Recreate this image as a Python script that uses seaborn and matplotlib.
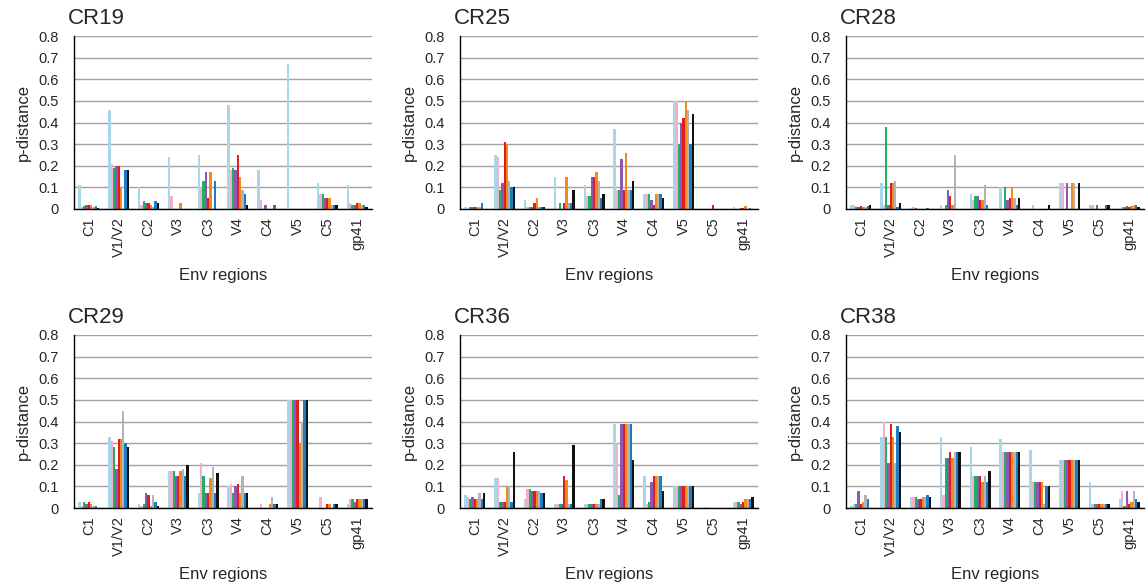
import numpy as np
import pandas as pd
import matplotlib
matplotlib.use("Agg")
import matplotlib.pyplot as plt
from matplotlib.ticker import FixedLocator, FuncFormatter
import seaborn as sns

sns.set_style("white")
plt.rcParams["font.family"] = ["Liberation Sans", "DejaVu Sans"]

regions = ["C1", "V1/V2", "C2", "V3", "C3", "V4", "C4", "V5", "C5", "gp41"]
series = ["s1", "s2", "s3", "s4", "s5", "s6", "s7", "s8", "s9"]
colors = ["#A8D8E8", "#F4AFCF", "#1FB15F", "#8D57B5", "#DE1E1E",
          "#F08A1D", "#B3B3B3", "#1E7DC2", "#111111"]

# rows = regions, columns = series
CR19 = [
    [0.11, 0.01, 0.015, 0.02, 0.02, 0.02, 0.01, 0.015, 0.005],
    [0.46, 0.21, 0.19, 0.20, 0.20, 0.10, 0.00, 0.18, 0.18],
    [0.10, 0.02, 0.035, 0.03, 0.03, 0.02, 0.01, 0.035, 0.03],
    [0.24, 0.06, 0.00, 0.00, 0.00, 0.03, 0.00, 0.00, 0.00],
    [0.25, 0.10, 0.13, 0.17, 0.05, 0.17, 0.00, 0.13, 0.00],
    [0.48, 0.18, 0.19, 0.18, 0.25, 0.15, 0.09, 0.07, 0.02],
    [0.18, 0.04, 0.00, 0.02, 0.00, 0.00, 0.00, 0.02, 0.00],
    [0.67, 0.00, 0.00, 0.00, 0.00, 0.00, 0.00, 0.00, 0.00],
    [0.12, 0.07, 0.07, 0.05, 0.05, 0.05, 0.02, 0.02, 0.02],
    [0.11, 0.03, 0.02, 0.02, 0.03, 0.03, 0.02, 0.02, 0.01],
]
CR25 = [
    [0.01, 0.00, 0.01, 0.01, 0.01, 0.01, 0.01, 0.03, 0.00],
    [0.25, 0.24, 0.09, 0.12, 0.31, 0.30, 0.13, 0.10, 0.10],
    [0.04, 0.01, 0.01, 0.01, 0.03, 0.05, 0.01, 0.01, 0.01],
    [0.15, 0.00, 0.03, 0.00, 0.03, 0.15, 0.03, 0.03, 0.09],
    [0.11, 0.06, 0.06, 0.15, 0.15, 0.17, 0.13, 0.05, 0.07],
    [0.37, 0.09, 0.09, 0.23, 0.09, 0.26, 0.09, 0.09, 0.13],
    [0.07, 0.07, 0.07, 0.04, 0.02, 0.07, 0.07, 0.07, 0.05],
    [0.50, 0.50, 0.30, 0.40, 0.42, 0.50, 0.46, 0.30, 0.44],
    [0.00, 0.00, 0.00, 0.00, 0.02, 0.00, 0.00, 0.00, 0.00],
    [0.01, 0.00, 0.00, 0.005, 0.005, 0.015, 0.00, 0.005, 0.00],
]
CR28 = [
    [0.02, 0.02, 0.01, 0.01, 0.015, 0.01, 0.01, 0.015, 0.02],
    [0.12, 0.02, 0.38, 0.02, 0.12, 0.12, 0.13, 0.01, 0.03],
    [0.005, 0.01, 0.005, 0.00, 0.00, 0.00, 0.00, 0.005, 0.00],
    [0.02, 0.00, 0.02, 0.09, 0.06, 0.02, 0.25, 0.00, 0.00],
    [0.07, 0.04, 0.06, 0.06, 0.04, 0.04, 0.11, 0.02, 0.00],
    [0.10, 0.00, 0.10, 0.04, 0.05, 0.10, 0.05, 0.02, 0.05],
    [0.00, 0.02, 0.00, 0.00, 0.00, 0.00, 0.00, 0.00, 0.02],
    [0.12, 0.12, 0.00, 0.12, 0.00, 0.12, 0.12, 0.00, 0.12],
    [0.02, 0.02, 0.00, 0.02, 0.00, 0.00, 0.00, 0.02, 0.02],
    [0.00, 0.01, 0.01, 0.015, 0.01, 0.015, 0.02, 0.02, 0.01],
]
CR29 = [
    [0.03, 0.01, 0.03, 0.02, 0.03, 0.02, 0.01, 0.01, 0.00],
    [0.33, 0.31, 0.28, 0.18, 0.32, 0.32, 0.45, 0.30, 0.28],
    [0.02, 0.01, 0.02, 0.07, 0.06, 0.01, 0.06, 0.03, 0.01],
    [0.17, 0.17, 0.17, 0.15, 0.15, 0.17, 0.18, 0.15, 0.20],
    [0.07, 0.21, 0.15, 0.07, 0.07, 0.14, 0.19, 0.07, 0.16],
    [0.10, 0.11, 0.07, 0.10, 0.11, 0.07, 0.15, 0.07, 0.07],
    [0.00, 0.02, 0.00, 0.00, 0.00, 0.02, 0.05, 0.02, 0.02],
    [0.50, 0.50, 0.50, 0.50, 0.50, 0.30, 0.40, 0.50, 0.50],
    [0.00, 0.05, 0.00, 0.00, 0.02, 0.02, 0.00, 0.02, 0.02],
    [0.02, 0.04, 0.04, 0.03, 0.04, 0.04, 0.04, 0.04, 0.04],
]
CR36 = [
    [0.06, 0.05, 0.04, 0.05, 0.04, 0.04, 0.07, 0.04, 0.07],
    [0.14, 0.14, 0.03, 0.03, 0.03, 0.10, 0.10, 0.03, 0.26],
    [0.04, 0.09, 0.09, 0.08, 0.08, 0.08, 0.08, 0.07, 0.07],
    [0.02, 0.02, 0.02, 0.02, 0.15, 0.13, 0.02, 0.02, 0.29],
    [0.02, 0.02, 0.02, 0.02, 0.02, 0.02, 0.02, 0.04, 0.04],
    [0.39, 0.30, 0.06, 0.39, 0.39, 0.39, 0.39, 0.39, 0.22],
    [0.15, 0.02, 0.03, 0.12, 0.15, 0.15, 0.15, 0.15, 0.08],
    [0.10, 0.10, 0.10, 0.10, 0.10, 0.10, 0.10, 0.10, 0.10],
    [0.00, 0.005, 0.00, 0.00, 0.00, 0.00, 0.00, 0.00, 0.00],
    [0.03, 0.03, 0.03, 0.02, 0.03, 0.04, 0.04, 0.04, 0.05],
]
CR38 = [
    [0.01, 0.02, 0.02, 0.08, 0.02, 0.03, 0.06, 0.04, 0.00],
    [0.33, 0.40, 0.33, 0.21, 0.39, 0.33, 0.21, 0.38, 0.35],
    [0.05, 0.05, 0.05, 0.04, 0.04, 0.05, 0.05, 0.06, 0.05],
    [0.33, 0.06, 0.23, 0.23, 0.26, 0.23, 0.26, 0.26, 0.26],
    [0.28, 0.15, 0.15, 0.15, 0.15, 0.12, 0.15, 0.12, 0.17],
    [0.32, 0.26, 0.26, 0.26, 0.26, 0.26, 0.26, 0.26, 0.26],
    [0.27, 0.12, 0.12, 0.12, 0.12, 0.12, 0.02, 0.10, 0.10],
    [0.22, 0.22, 0.22, 0.22, 0.22, 0.22, 0.22, 0.22, 0.22],
    [0.12, 0.02, 0.02, 0.02, 0.02, 0.02, 0.02, 0.02, 0.02],
    [0.04, 0.08, 0.01, 0.08, 0.02, 0.03, 0.08, 0.04, 0.03],
]

panels = [("CR19", CR19), ("CR25", CR25), ("CR28", CR28),
          ("CR29", CR29), ("CR36", CR36), ("CR38", CR38)]

W, H = 1146, 588
fig = plt.figure(figsize=(W / 100, H / 100), dpi=100)

lefts = [74, 460, 846]
bottoms = [209, 508]
aw, ah = 298, 173

for i, (name, vals) in enumerate(panels):
    r, c = divmod(i, 3)
    ax = fig.add_axes([lefts[c] / W, 1 - bottoms[r] / H, aw / W, ah / H])
    df = pd.DataFrame(vals, index=regions, columns=series)
    long = df.reset_index().melt(id_vars="index", var_name="series", value_name="p")
    long = long.rename(columns={"index": "region"})
    sns.barplot(data=long, x="region", y="p", hue="series", order=regions,
                hue_order=series, palette=colors, saturation=1, width=0.7,
                linewidth=0, legend=False, ax=ax)
    ax.set_xlim(-0.5, len(regions) - 0.5)
    ax.set_ylim(0, 0.8)
    ax.set_yticks(np.arange(0, 0.81, 0.1))
    ax.yaxis.set_major_formatter(FuncFormatter(lambda v, p: f"{v:.1f}" if v > 0.001 else "0"))
    ax.grid(axis="y", color="#A0A0A0", linewidth=1.0)
    ax.set_axisbelow(True)
    for s in ["top", "right"]:
        ax.spines[s].set_visible(False)
    ax.spines["left"].set_color("black")
    ax.spines["bottom"].set_color("black")
    ax.spines["left"].set_linewidth(1.0)
    ax.spines["bottom"].set_linewidth(1.0)
    ax.tick_params(axis="x", which="major", length=0, labelrotation=90,
                   labelsize=10.5, pad=6)
    ax.xaxis.set_minor_locator(FixedLocator(np.arange(-0.5, len(regions), 1.0)))
    ax.tick_params(axis="x", which="minor", length=4, color="black", width=1)
    ax.tick_params(axis="y", length=0, labelsize=10.5, pad=11)
    ax.set_xlabel("Env regions", fontsize=12, labelpad=8)
    ax.set_ylabel("p-distance", fontsize=12, labelpad=5)
    ax.text(-0.02, 1.04, name, transform=ax.transAxes, fontsize=16,
            ha="left", va="bottom")

fig.savefig("out.png", dpi=100)
